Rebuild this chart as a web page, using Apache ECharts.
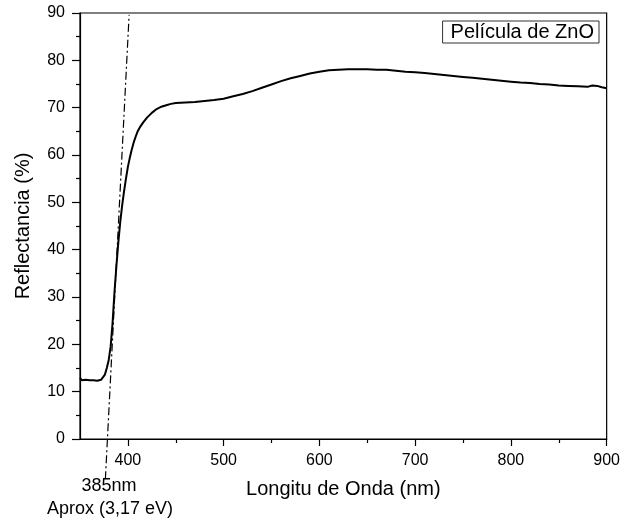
<!DOCTYPE html>
<html>
<head>
<meta charset="utf-8">
<script src="https://cdn.jsdelivr.net/npm/echarts@6/dist/echarts.min.js"></script>
<style>html,body{margin:0;padding:0;background:#fff}#c{width:623px;height:522px}</style>
</head>
<body>
<div id="c"></div>
<script>
var wavelength = [350,352,354,356,358,360,362,364,366,368,370,372,374,376,378,380,382,384,386,388,390,392,394,396,398,400,402,404,406,408,410,413,416,420,425,430,435,440,445,450,460,470,480,490,500,510,520,530,540,550,560,570,580,590,600,610,620,630,640,650,660,670,680,690,700,710,720,730,740,750,760,770,780,790,800,810,820,830,840,850,860,870,880,885,890,895,900];
var reflectance = [12.9,12.4,12.2,12.5,12.2,12.4,12.1,12.4,12.2,12.3,12.1,12.5,12.8,13.6,15.0,16.7,19.5,24.5,31.0,36.5,41.5,45.8,49.3,52.3,55.0,57.5,59.4,61.1,62.6,63.8,64.9,66.0,66.9,67.9,68.9,69.7,70.2,70.5,70.8,71.0,71.1,71.2,71.4,71.6,71.9,72.4,72.9,73.5,74.2,74.9,75.6,76.2,76.7,77.2,77.6,77.9,78.0,78.1,78.1,78.1,78.0,78.0,77.8,77.6,77.5,77.3,77.1,76.9,76.7,76.5,76.3,76.1,75.9,75.7,75.5,75.3,75.2,75.0,74.9,74.7,74.6,74.5,74.4,74.7,74.6,74.3,74.1];
var tangentX = [376.5, 401.3];
var tangentY = [-8.5, 89.6];
var xMajorTicks = [400,500,600,700,800,900];
var xMinorTicks = [450,550,650,750,850];
var seriesName = 'Película de ZnO';
var noteLines = ['385nm', 'Aprox (3,17 eV)'];

var font = 'Arial, "Liberation Sans", sans-serif';
var chart = echarts.init(document.getElementById('c'), null, {renderer:'canvas'});
chart.setOption({
  animation: false,
  backgroundColor: '#fff',
  grid: {left: 80, right: 15, top: 13, bottom: 83, show: true, borderColor: '#000', borderWidth: 1.2, containLabel: false},
  legend: {
    data: [{name: seriesName, icon: 'none'}],
    right: 24, top: 21, itemWidth: 0, itemHeight: 0, itemGap: 0,
    padding: [1, 5, 1, 3], borderColor: '#333', borderWidth: 1, backgroundColor: '#fff',
    textStyle: {fontFamily: font, fontSize: 20, color: '#000'}, selectedMode: false
  },
  xAxis: [{
    type: 'value', min: 350, max: 900,
    name: 'Longitu de Onda (nm)', nameLocation: 'middle', nameGap: 40,
    nameTextStyle: {fontFamily: font, fontSize: 20, color: '#000'},
    axisLine: {show: true, onZero: false, lineStyle: {color: '#000', width: 1.2}},
    axisTick: {show: true, inside: false, length: 7, customValues: xMajorTicks, lineStyle: {color: '#000', width: 1.2}},
    axisLabel: {customValues: xMajorTicks, fontFamily: font, fontSize: 16, color: '#000', margin: 14},
    splitLine: {show: false}
  }, {
    type: 'value', min: 350, max: 900, position: 'bottom',
    axisLine: {show: false, onZero: false},
    axisTick: {show: true, inside: false, length: 4, customValues: xMinorTicks, lineStyle: {color: '#000', width: 1.2}},
    axisLabel: {show: false},
    splitLine: {show: false}
  }],
  yAxis: {
    type: 'value', min: 0, max: 90, interval: 10,
    name: 'Reflectancia (%)', nameLocation: 'middle', nameGap: 47,
    nameTextStyle: {fontFamily: font, fontSize: 20, color: '#000'},
    axisLine: {show: true, lineStyle: {color: '#000', width: 1.2}},
    axisTick: {show: true, inside: false, length: 8, lineStyle: {color: '#000', width: 1.2}},
    minorTick: {show: true, splitNumber: 2, length: 4, lineStyle: {color: '#000', width: 1.2}},
    axisLabel: {fontFamily: font, fontSize: 16, color: '#000', margin: 15},
    splitLine: {show: false}
  },
  graphic: [
    {type: 'text', style: {text: noteLines[0], x: 109, y: 486, align: 'center', verticalAlign: 'middle', font: '18px ' + font, fill: '#000'}},
    {type: 'text', style: {text: noteLines[1], x: 110, y: 509, align: 'center', verticalAlign: 'middle', font: '18px ' + font, fill: '#000'}}
  ],
  series: [{
    name: seriesName, type: 'line', xAxisIndex: 0, showSymbol: false, symbol: 'none',
    lineStyle: {color: '#000', width: 2},
    data: wavelength.map(function (w, i) { return [w, reflectance[i]]; })
  }, {
    name: 'tangente', type: 'line', xAxisIndex: 0, showSymbol: false, symbol: 'none', clip: false,
    lineStyle: {color: '#000', width: 1.2, type: [8, 3, 2, 3]},
    data: tangentX.map(function (w, i) { return [w, tangentY[i]]; })
  }]
});
</script>
</body>
</html>
